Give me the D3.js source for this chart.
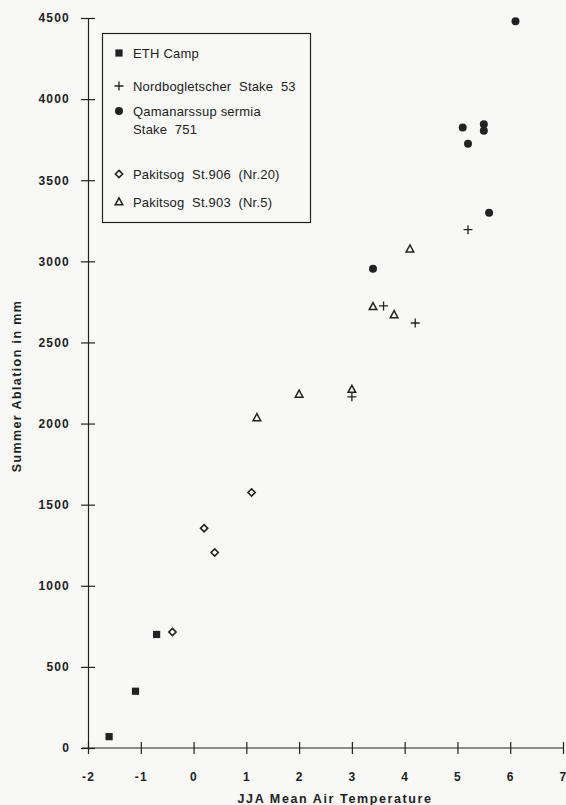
<!DOCTYPE html>
<html>
<head>
<meta charset="utf-8">
<script src="https://cdn.jsdelivr.net/npm/d3@7"></script>
<style>
  body { margin: 0; background: #f8f8f6; }
  svg { display: block; font-family: "Liberation Sans", Arial, sans-serif; }
</style>
</head>
<body>
<div id="chart"></div>
<script>
// data
const xTicks = [-2, -1, 0, 1, 2, 3, 4, 5, 6, 7];
const yTicks = [0, 500, 1000, 1500, 2000, 2500, 3000, 3500, 4000, 4500];

const ethX = [-1.6, -1.1, -0.7];
const ethY = [70, 350, 700];
const nordX = [3.0, 3.6, 4.2, 5.2];
const nordY = [2165, 2725, 2620, 3195];
const qamX = [3.4, 5.1, 5.2, 5.5, 5.5, 5.6, 6.1];
const qamY = [2955, 3825, 3725, 3845, 3805, 3300, 4480];
const p906X = [-0.4, 0.2, 0.4, 1.1];
const p906Y = [715, 1355, 1205, 1575];
const p903X = [1.2, 2.0, 3.0, 3.4, 3.8, 4.1];
const p903Y = [2035, 2180, 2210, 2720, 2670, 3075];

const series = [
  { name: ['ETH Camp'], xs: ethX, ys: ethY, type: 'square' },
  { name: ['Nordbogletscher  Stake  53'], xs: nordX, ys: nordY, type: 'plus' },
  { name: ['Qamanarssup sermia', 'Stake  751'], xs: qamX, ys: qamY, type: 'circle' },
  { name: ['Pakitsog  St.906  (Nr.20)'], xs: p906X, ys: p906Y, type: 'diamond' },
  { name: ['Pakitsog  St.903  (Nr.5)'], xs: p903X, ys: p903Y, type: 'triangle' }
];

const width = 566, height = 805;
const ink = '#222';

const svg = d3.select('#chart').append('svg')
  .attr('width', width)
  .attr('height', height);

const x = d3.scaleLinear().domain([-2, 7]).range([88, 563]);
const y = d3.scaleLinear().domain([0, 4500]).range([748, 18]);

// axes
const gx = svg.append('g')
  .attr('transform', `translate(0,${y(0)})`)
  .call(d3.axisBottom(x).tickValues(xTicks).tickSize(6).tickSizeOuter(0)
    .tickFormat(d => d < 0 ? '-' + Math.abs(d) : d));
gx.select('.domain').attr('d', `M82,0H${x(7)}`);
gx.selectAll('.tick line').attr('y1', -6).attr('y2', 6);
gx.selectAll('.tick text').attr('dy', 0).attr('y', 33);

const gy = svg.append('g')
  .attr('transform', `translate(${x(-2)},0)`)
  .call(d3.axisLeft(y).tickValues(yTicks).tickSize(7).tickSizeOuter(0).tickFormat(d3.format('d')));
gy.selectAll('.tick line').attr('x1', 7).attr('x2', -7);
gy.selectAll('.tick text').attr('x', -18);

svg.selectAll('.domain, .tick line').attr('stroke', ink).attr('stroke-width', 1.2);
svg.selectAll('.tick text')
  .attr('fill', ink)
  .style('font-size', '12px')
  .style('font-weight', 'bold')
  .style('letter-spacing', '1.2px')
  .style('font-family', '"Liberation Sans", Arial, sans-serif');

// axis titles
svg.append('text')
  .attr('x', 335).attr('y', 803)
  .attr('text-anchor', 'middle')
  .attr('fill', ink)
  .style('font-size', '12.5px').style('font-weight', 'bold').style('letter-spacing', '1.6px')
  .text('JJA  Mean  Air  Temperature');

svg.append('text')
  .attr('transform', 'translate(21,386) rotate(-90)')
  .attr('text-anchor', 'middle')
  .attr('fill', ink)
  .style('font-size', '12.5px').style('font-weight', 'bold').style('letter-spacing', '1.4px')
  .text('Summer  Ablation  in  mm');

// markers
function drawMarker(g, type) {
  if (type === 'square') {
    g.append('rect').attr('x', -3.6).attr('y', -3.6).attr('width', 7.2).attr('height', 7.2).attr('fill', ink);
  } else if (type === 'circle') {
    g.append('circle').attr('r', 4).attr('fill', ink);
  } else if (type === 'plus') {
    g.append('path').attr('d', 'M-4.5,0H4.5M0,-4.5V4.5').attr('stroke', ink).attr('stroke-width', 1.3);
  } else if (type === 'diamond') {
    g.append('path').attr('d', 'M0,-3.6L3.6,0L0,3.6L-3.6,0Z')
      .attr('fill', 'none').attr('stroke', ink).attr('stroke-width', 1.6);
  } else if (type === 'triangle') {
    g.append('path').attr('d', 'M0,-4.2L3.8,2.8L-3.8,2.8Z')
      .attr('fill', 'none').attr('stroke', ink).attr('stroke-width', 1.5);
  }
}

series.forEach(s => {
  svg.append('g').selectAll('g')
    .data(d3.range(s.xs.length))
    .enter()
    .append('g')
    .attr('transform', i => `translate(${x(s.xs[i])},${y(s.ys[i])})`)
    .each(function () { drawMarker(d3.select(this), s.type); });
});

// legend
const legend = svg.append('g');
legend.append('rect')
  .attr('x', 102.5).attr('y', 33.5).attr('width', 208).attr('height', 189)
  .attr('fill', 'none').attr('stroke', ink).attr('stroke-width', 1.2);

const legendY = [54, 87, 112, 175, 203];
series.forEach((s, i) => {
  const g = legend.append('g').attr('transform', `translate(119,${legendY[i] - 1})`);
  drawMarker(g, s.type);
  s.name.forEach((line, j) => {
    legend.append('text')
      .attr('x', 133).attr('y', legendY[i] + 4 + j * 18)
      .attr('fill', ink)
      .style('font-size', '13px')
      .style('letter-spacing', '0.2px')
      .style('white-space', 'pre')
      .text(line);
  });
});
</script>
</body>
</html>
